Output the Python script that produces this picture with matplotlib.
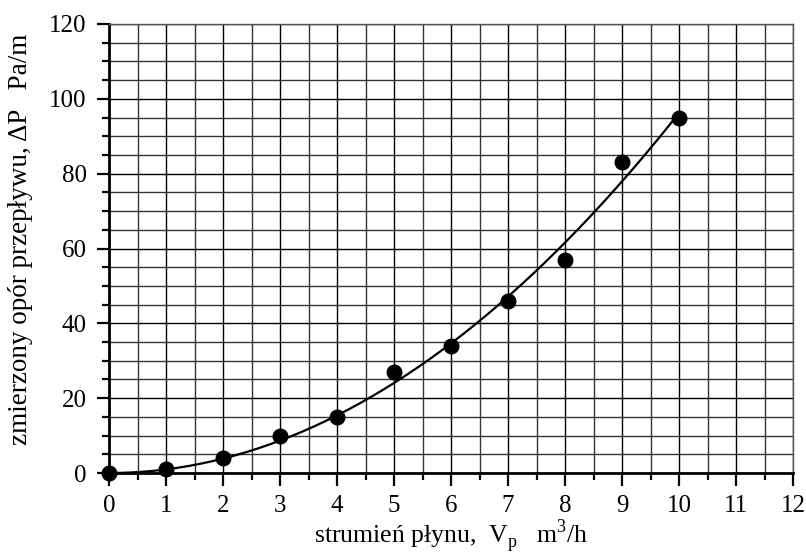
import numpy as np
import matplotlib.pyplot as plt
from matplotlib.ticker import MultipleLocator

plt.rcParams['font.family'] = ['Liberation Serif', 'DejaVu Serif']
plt.rcParams['mathtext.fontset'] = 'custom'
plt.rcParams['mathtext.rm'] = 'Liberation Serif'

# measured points
flow = [0, 1, 2, 3, 4, 5, 6, 7, 8, 9, 10]
dp = [0, 1.2, 4, 10, 15, 27, 34, 46, 57, 83, 95]

x = np.array(flow, dtype=float)
y = np.array(dp, dtype=float)

# least squares fit dp = a * V^2
a = np.sum(x**2 * y) / np.sum(x**4)
xf = np.linspace(0, 10, 200)
yf = a * xf**2

fig = plt.figure(figsize=(8.06, 5.55), dpi=100)
ax = fig.add_axes([109/806, 82/555, 684/806, 449/555])

ax.plot(xf, yf, color='black', lw=1.6, zorder=3)
ax.plot(x, y, 'o', color='black', ms=10.5, zorder=4, clip_on=False)

ax.set_xlim(0, 12)
ax.set_ylim(0, 120)
ax.xaxis.set_major_locator(MultipleLocator(1))
ax.xaxis.set_minor_locator(MultipleLocator(0.5))
ax.yaxis.set_major_locator(MultipleLocator(20))
ax.yaxis.set_minor_locator(MultipleLocator(5))

ax.grid(which='major', color='black', lw=1.0)
ax.grid(which='minor', color='#333333', lw=1.0)
ax.set_axisbelow(True)

ax.tick_params(which='major', direction='out', length=9, width=1.6,
               labelsize=18, pad=7, color='black')
ax.tick_params(which='minor', direction='out', length=5, width=1.6, color='black')

ax.spines['left'].set_linewidth(2)
ax.spines['bottom'].set_linewidth(2)
ax.spines['top'].set_linewidth(1)
ax.spines['right'].set_linewidth(1)
ax.spines['top'].set_color('#555555')
ax.spines['right'].set_color('#555555')

ax.set_xlabel(r'strumień płynu,  V$_\mathregular{p}$   m$^\mathregular{3}$/h',
              fontsize=18.5, labelpad=0)
ax.set_ylabel('zmierzony opór przepływu, ΔP   Pa/m', fontsize=19.5)
ax.yaxis.set_label_coords(-0.111, 0.52)

fig.savefig('out.png', dpi=100)
